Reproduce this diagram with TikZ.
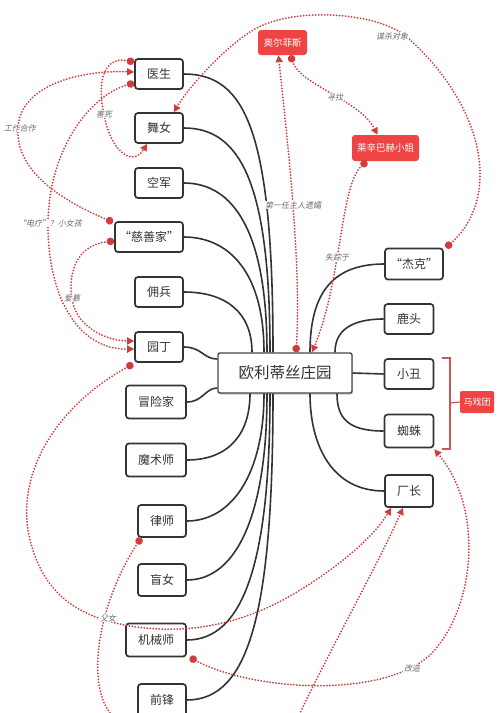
\documentclass[tikz,border=0pt]{standalone}
\usepackage{fontspec}
\setmainfont{Noto Sans CJK SC}
\newfontfamily\lblfont[FakeSlant=0.2]{Noto Sans CJK SC}
\usetikzlibrary{arrows.meta,calc,shadows}
\definecolor{relred}{RGB}{210,60,60}
\definecolor{boxred}{RGB}{238,68,68}
\definecolor{ink}{RGB}{51,51,51}
\definecolor{brk}{RGB}{205,85,85}
\definecolor{lblgray}{RGB}{105,105,105}
\begin{document}
\begin{tikzpicture}[x=1pt,y=-1pt,
  box/.style={draw=ink, line width=1.7pt, rounded corners=3pt, fill=white, text=ink,
    font=\fontsize{12}{14}\selectfont, minimum width=48pt, minimum height=30pt, inner sep=0pt},
  hubbox/.style={draw=ink!90, line width=1.4pt, rounded corners=2pt, fill=white, text=ink,
    font=\fontsize{15.5}{18}\selectfont, minimum width=134pt, minimum height=40pt, inner sep=0pt,
    drop shadow={shadow xshift=0.8pt, shadow yshift=-1.5pt, opacity=0.22, fill=black}},
  redbox/.style={fill=boxred, rounded corners=3pt, text=white,
    font=\fontsize{9.5}{11}\selectfont, minimum height=25pt, inner sep=0pt},
  conn/.style={draw=ink, line width=1.6pt},
  rel/.style={draw=relred, line width=2pt, line cap=round, dash pattern=on 0pt off 3pt,
    {Circle[length=7.5pt,width=7.5pt]}-{Triangle[length=7pt,width=7pt]}},
  lbl/.style={font=\lblfont\fontsize{8}{9.5}\selectfont, text=lblgray, fill=white, inner sep=0.6pt}
]
\useasboundingbox (0,0) rectangle (500,713);
\clip (0,0) rectangle (500,713);
\fill[white] (0,0) rectangle (500,713);

% hub
\node[hubbox] (hub) at (285,373) {欧利蒂丝庄园};

% left column
\node[box] (doc) at (159,74) {医生};
\node[box] (dancer) at (159,128) {舞女};
\node[box] (air) at (159,183) {空军};
\node[box, minimum width=68pt] (phil) at (149,237) {“慈善家”};
\node[box] (merc) at (159,292) {佣兵};
\node[box] (gard) at (159,347) {园丁};
\node[box, minimum width=60pt, minimum height=33pt] (expl) at (156,402) {冒险家};
\node[box, minimum width=60pt, minimum height=33pt] (magi) at (156,460) {魔术师};
\node[box, minimum height=32pt] (lawy) at (162,521) {律师};
\node[box, minimum height=32pt] (blind) at (162,580) {盲女};
\node[box, minimum width=60pt, minimum height=33pt] (mech) at (156,640) {机械师};
\node[box, minimum height=32pt] (fwd) at (162,700) {前锋};

% right column
\node[box, minimum width=58pt, minimum height=31pt] (jack) at (414,264) {“杰克”};
\node[box, minimum width=49pt] (deer) at (409,319) {鹿头};
\node[box, minimum width=49pt] (clown) at (409,374) {小丑};
\node[box, minimum width=49pt, minimum height=33pt] (spider) at (409,431) {蜘蛛};
\node[box, minimum height=32pt] (boss) at (409,491) {厂长};

% red nodes
\node[redbox, minimum width=49pt] (orph) at (282.5,42.5) {奥尔菲斯};
\node[redbox, minimum width=67pt, minimum height=26pt] (miss) at (385.5,148) {莱辛巴赫小姐};
\node[redbox, minimum width=34pt, minimum height=22pt, rounded corners=2pt, font=\fontsize{9}{10}\selectfont] (circus) at (477,402) {马戏团};

% bracket
\coordinate (brmid) at (450,403);
\draw[brk, line width=1.2pt] (442,358) -- (450,358) -- (450,449) -- (442,449);
\draw[brk, line width=1.2pt] (brmid) -- (circus.west);

% black connectors, left top
\draw[conn] (doc.east) .. controls +(62,0) and +(0,-220) .. ($(hub.north)+(-12,0)$);
\draw[conn] (dancer.east) .. controls +(56,0) and +(0,-170) .. ($(hub.north)+(-15,0)$);
\draw[conn] (air.east) .. controls +(50,0) and +(0,-120) .. ($(hub.north)+(-18,0)$);
\draw[conn] (phil.east) .. controls +(45,0) and +(0,-80) .. ($(hub.north)+(-21,0)$);
\draw[conn] (merc.east) .. controls +(42,0) and +(0,-40) .. ($(hub.north)+(-33,0)$);
\draw[conn] (gard.east) .. controls +(18,0) and +(-14,0) .. ($(hub.west)+(0,-14)$);
\draw[conn] (expl.east) .. controls +(16,0) and +(-12,0) .. ($(hub.west)+(0,15)$);
% left bottom
\draw[conn] (magi.east) .. controls +(42,0) and +(0,40) .. ($(hub.south)+(-35,0)$);
\draw[conn] (lawy.east) .. controls +(45,0) and +(0,80) .. ($(hub.south)+(-21,0)$);
\draw[conn] (blind.east) .. controls +(50,0) and +(0,120) .. ($(hub.south)+(-18,0)$);
\draw[conn] (mech.east) .. controls +(56,0) and +(0,170) .. ($(hub.south)+(-15,0)$);
\draw[conn] (fwd.east) .. controls +(62,0) and +(0,220) .. ($(hub.south)+(-12,0)$);
% right
\draw[conn] (jack.west) .. controls +(-55,0) and +(0,-55) .. ($(hub.north)+(25,0)$);
\draw[conn] (deer.west) .. controls +(-32,0) and +(0,-22) .. ($(hub.north)+(50,0)$);
\draw[conn] (hub.east) -- (clown.west);
\draw[conn] (spider.west) .. controls +(-35,0) and +(0,25) .. ($(hub.south)+(52,0)$);
\draw[conn] (boss.west) .. controls +(-52,0) and +(0,52) .. ($(hub.south)+(25,0)$);

% red dotted relations
% 工作合作
\draw[rel] ($(phil.north west)+(-1,1)$) .. controls (60,200) and (15,170) .. (18,128)
  .. controls (20,85) and (80,70) .. ($(doc.west)+(0,-2)$);
% 害死
\draw[rel] ($(doc.west)+(0,-12)$) .. controls (100,55) and (98,90) .. (104,114)
  .. controls (110,150) and (132,168) .. ($(dancer.south west)+(13,0)$);
% 电疗 小女孩
\draw[rel] ($(doc.west)+(0,9)$) .. controls (90,95) and (48,150) .. (48,225)
  .. controls (48,300) and (80,350) .. ($(gard.west)+(0,2)$);
% 爱慕
\draw[rel] ($(phil.west)+(0,4)$) .. controls (75,245) and (68,275) .. (72,300)
  .. controls (78,330) and (110,341) .. ($(gard.west)+(0,-6)$);
% 谋杀对象
\draw[rel] ($(jack.north east)+(2,0)$) .. controls (500,200) and (488,110) .. (408,38)
  .. controls (380,12) and (290,5) .. (250,32)
  .. controls (225,48) and (190,85) .. ($(dancer.north east)+(-10,0)$);
% 寻找
\draw[rel] ($(orph.south)+(8,0)$) .. controls (300,85) and (360,100) .. ($(miss.north)+(-8,0)$);
% 第一任主人遗孀
\draw[rel] ($(hub.north)+(11,0)$) .. controls (302,260) and (285,120) .. ($(orph.south)+(-4,0)$);
% 失踪于
\draw[rel] ($(miss.south west)+(15,0)$) .. controls (340,185) and (342,280) .. ($(hub.north)+(27,0)$);
% 父女
\draw[rel] ($(gard.south west)+(-1,1)$) .. controls (50,410) and (15,480) .. (30,540)
  .. controls (45,600) and (85,618) .. (130,626)
  .. controls (190,636) and (245,622) .. (290,596)
  .. controls (330,573) and (372,540) .. ($(boss.south west)+(7,0)$);
% 律师 -> 厂长
\draw[rel] ($(lawy.south west)+(4,0)$) .. controls (100,600) and (85,680) .. (110,713)
  .. controls (150,780) and (260,790) .. (300,713)
  .. controls (330,650) and (380,560) .. ($(boss.south)+(-6,0)$);
% 改造
\draw[rel] ($(mech.south east)+(3,0)$) .. controls (250,690) and (380,700) .. (430,655)
  .. controls (475,610) and (485,510) .. ($(spider.south east)+(0,1)$);

% labels
\node[lbl] (l1) at (20,128) {工作合作};
\node[lbl] (l2) at (104,114) {害死};
\node[lbl] (l3) at (50,223) {“电疗”？小女孩};
\node[lbl] (l4) at (72,298) {爱慕};
\node[lbl] (l5) at (392,36) {谋杀对象};
\node[lbl] (l6) at (335,97) {寻找};
\node[lbl] (l7) at (293,205) {第一任主人遗孀};
\node[lbl] (l8) at (337,257) {失踪于};
\node[lbl] (l9) at (108,618) {父女};
\node[lbl] (l10) at (412,668) {改造};
\end{tikzpicture}
\end{document}
